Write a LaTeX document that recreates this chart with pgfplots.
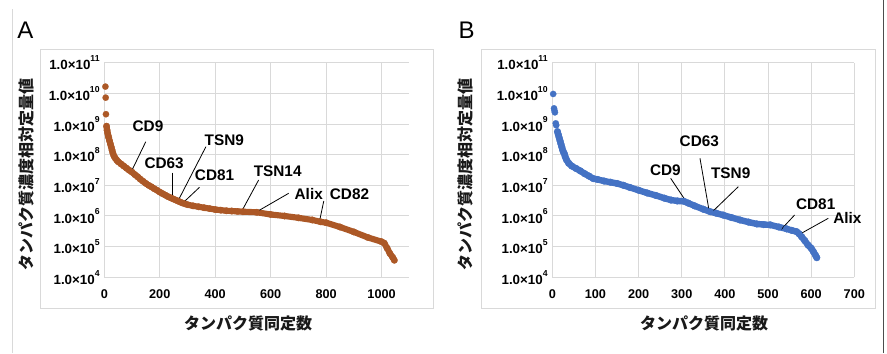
\documentclass[border=0pt]{standalone}
\usepackage{pgfplots}
\usepackage{pgfplotstable}
\pgfplotsset{compat=1.18}
\usepackage{fontspec}
\setmainfont{Liberation Sans}
\newfontfamily\jp{Noto Sans CJK JP}
\definecolor{brn}{RGB}{172,88,38}
\definecolor{blu}{RGB}{68,114,196}
\definecolor{gridc}{RGB}{217,217,217}

\pgfplotstableread{
rank val
4 1.66e10
5 7.24e9
6 2.09e9
}\Atop
\pgfplotstableread{
rank val
8 8.51e8
10 6.31e8
12 5.01e8
14 4.17e8
16 3.55e8
19 2.82e8
22 2.24e8
25 1.78e8
28 1.41e8
31 1.12e8
35 8.91e7
40 7.59e7
45 6.61e7
50 5.89e7
60 5.01e7
70 4.27e7
80 3.63e7
90 3.09e7
100 2.69e7
110 2.24e7
120 1.91e7
130 1.58e7
140 1.35e7
150 1.15e7
160 1.00e7
170 8.91e6
180 7.76e6
190 6.92e6
200 6.03e6
210 5.37e6
220 4.79e6
230 4.27e6
240 3.89e6
250 3.55e6
260 3.24e6
270 2.95e6
280 2.69e6
290 2.51e6
300 2.34e6
320 2.14e6
340 2.00e6
360 1.86e6
380 1.74e6
400 1.62e6
420 1.55e6
440 1.48e6
460 1.45e6
480 1.41e6
500 1.38e6
550 1.32e6
600 1.12e6
650 1.00e6
700 8.71e5
750 7.41e5
780 6.46e5
800 6.03e5
850 4.37e5
900 3.02e5
950 2.00e5
1000 1.45e5
1010 1.29e5
1020 8.90e4
1030 6.00e4
1040 4.47e4
1046 3.60e4
}\Aband
\pgfplotstableread{
rank val
2 9.55e9
4 3.24e9
5 2.75e9
6 2.40e9
8 1.05e9
9 9.12e8
}\Btop
\pgfplotstableread{
rank val
12 5.62e8
14 4.47e8
16 3.55e8
18 2.82e8
20 2.24e8
22 1.78e8
24 1.41e8
26 1.20e8
28 1.07e8
30 8.51e7
33 6.76e7
38 5.25e7
45 4.27e7
55 3.55e7
65 2.95e7
75 2.40e7
85 2.00e7
95 1.66e7
105 1.55e7
120 1.38e7
135 1.26e7
150 1.15e7
165 1.00e7
180 8.51e6
200 6.92e6
220 5.62e6
240 4.68e6
260 3.80e6
275 3.31e6
290 3.09e6
305 3.02e6
315 2.63e6
330 2.14e6
350 1.66e6
366 1.38e6
380 1.23e6
396 1.07e6
415 8.91e5
435 7.41e5
455 6.31e5
474 5.50e5
490 5.25e5
505 5.13e5
525 4.37e5
543 3.80e5
555 3.39e5
566 3.09e5
572 2.63e5
578 2.09e5
585 1.58e5
593 1.12e5
600 8.91e4
605 6.92e4
610 5.25e4
613 4.37e4
}\Bband

\tikzset{
  ann/.style={font=\bfseries\fontsize{11.5}{13}\selectfont, text=black},
  lead/.style={black, line width=0.6pt},
  jpl/.style={font=\jp\bfseries\fontsize{12}{14}\selectfont, text=black!90},
}

\begin{document}
\begin{tikzpicture}
\path[use as bounding box] (0,0) rectangle (665.25pt,264.75pt);
% frame lines
\draw[gridc, line width=0.6pt] (9pt,0) -- (9pt,258pt);
\draw[black!70, line width=1.2pt] (662.5pt,0) -- (662.5pt,264.75pt);
% chart area borders
\draw[gridc, line width=0.75pt] (30pt,33.75pt) rectangle (324.75pt,227.25pt);
\draw[gridc, line width=0.75pt] (360.75pt,33.75pt) rectangle (656.25pt,227.25pt);
% panel letters
\node[font=\fontsize{18}{20}\selectfont] at (19pt,242.25pt) {A};
\node[font=\fontsize{18}{20}\selectfont] at (350pt,242.25pt) {B};
% axis titles
\node[jpl] at (186pt,22.5pt) {タンパク質同定数};
\node[jpl] at (528pt,22.5pt) {タンパク質同定数};
\node[jpl, rotate=90] at (20pt,133.7pt) {タンパク質濃度相対定量値};
\node[jpl, rotate=90] at (349.3pt,133.7pt) {タンパク質濃度相対定量値};

\begin{axis}[/pgfplots/ymode=log, scale only axis, anchor=south west, at={(78.225pt,56.775pt)},
  width=228.75pt, height=160.95pt,
  ymin=1e4, ymax=1e11,
  ytick={1e4,1e5,1e6,1e7,1e8,1e9,1e10,1e11},
  yticklabel={\pgfmathtruncatemacro\ex{round(\tick/ln(10))}1.0×10\raisebox{0.62em}{\fontsize{6.5}{7}\selectfont\ex}},
  yminorticks=false,
  grid=major, major grid style={gridc, line width=0.75pt},
  axis x line*=bottom, axis y line*=left,
  axis line style={gridc, line width=0.75pt},
  major tick length=0pt,
  yticklabel style={font=\bfseries\fontsize{10}{12}\selectfont, text=black},
  xticklabel style={font=\bfseries\fontsize{9.5}{12}\selectfont, text=black, yshift=-6pt},
  enlargelimits=false, clip=false,
  xmin=0, xmax=1100, xtick={0,200,400,600,800,1000},
  xticklabels={0,200,400,600,800,1000}]
\addplot[only marks, mark=*, mark size=2.4pt, color=brn, mark options={line width=0.1pt}] table {\Atop};
\addplot[brn, line width=4.6pt, line cap=round, line join=round, mark=*, mark size=2.5pt, mark options={line width=0.1pt}] table {\Aband};
\draw[lead] (axis cs:149.6,2.65e8) -- (axis cs:99,3.0e7);
\draw[lead] (axis cs:247.2,2.58e7) -- (axis cs:247.2,3.78e6);
\draw[lead] (axis cs:366.5,1.82e8) -- (axis cs:267.5,3.32e6);
\draw[lead] (axis cs:343.4,8.63e6) -- (axis cs:288.1,2.92e6);
\draw[lead] (axis cs:556.6,1.49e7) -- (axis cs:496.6,1.49e6);
\draw[lead] (axis cs:665.1,5.50e6) -- (axis cs:556.6,1.49e6);
\draw[lead] (axis cs:791.5,3.08e6) -- (axis cs:777.1,7.40e5);
\node[ann] at (axis cs:157.6,8.17e8) {CD9};
\node[ann] at (axis cs:215.8,5.23e7) {CD63};
\node[ann] at (axis cs:432.6,3.01e8) {TSN9};
\node[ann] at (axis cs:397.6,2.06e7) {CD81};
\node[ann] at (axis cs:625.3,2.79e7) {TSN14};
\node[ann] at (axis cs:737.3,5.09e6) {Alix};
\node[ann] at (axis cs:884.4,5.09e6) {CD82};
\end{axis}

\begin{axis}[/pgfplots/ymode=log, scale only axis, anchor=south west, at={(414.225pt,56.775pt)},
  width=226.5pt, height=160.95pt,
  ymin=1e4, ymax=1e11,
  ytick={1e4,1e5,1e6,1e7,1e8,1e9,1e10,1e11},
  yticklabel={\pgfmathtruncatemacro\ex{round(\tick/ln(10))}1.0×10\raisebox{0.62em}{\fontsize{6.5}{7}\selectfont\ex}},
  yminorticks=false,
  grid=major, major grid style={gridc, line width=0.75pt},
  axis x line*=bottom, axis y line*=left,
  axis line style={gridc, line width=0.75pt},
  major tick length=0pt,
  yticklabel style={font=\bfseries\fontsize{10}{12}\selectfont, text=black},
  xticklabel style={font=\bfseries\fontsize{9.5}{12}\selectfont, text=black, yshift=-6pt},
  enlargelimits=false, clip=false,
  xmin=0, xmax=700, xtick={0,100,200,300,400,500,600,700},
  xticklabels={0,100,200,300,400,500,600,700}]
\addplot[only marks, mark=*, mark size=2.4pt, color=blu, mark options={line width=0.1pt}] table {\Btop};
\addplot[blu, line width=4.8pt, line cap=round, line join=round, mark=*, mark size=2.6pt, mark options={line width=0.1pt}] table {\Bband};
\draw[lead] (axis cs:274.4,1.69e7) -- (axis cs:311.5,2.79e6);
\draw[lead] (axis cs:342.3,7.62e7) -- (axis cs:362.5,1.78e6);
\draw[lead] (axis cs:431.1,9.02e6) -- (axis cs:367.2,1.22e6);
\draw[lead] (axis cs:561.7,1.08e6) -- (axis cs:530.8,3.67e5);
\draw[lead] (axis cs:639.7,8.39e5) -- (axis cs:570.2,2.40e5);
\node[ann] at (axis cs:262,3.0e7) {CD9};
\node[ann] at (axis cs:340.8,2.65e8) {CD63};
\node[ann] at (axis cs:413.5,2.47e7) {TSN9};
\node[ann] at (axis cs:610.5,2.46e6) {CD81};
\node[ann] at (axis cs:683.8,8.39e5) {Alix};
\end{axis}
\end{tikzpicture}
\end{document}
